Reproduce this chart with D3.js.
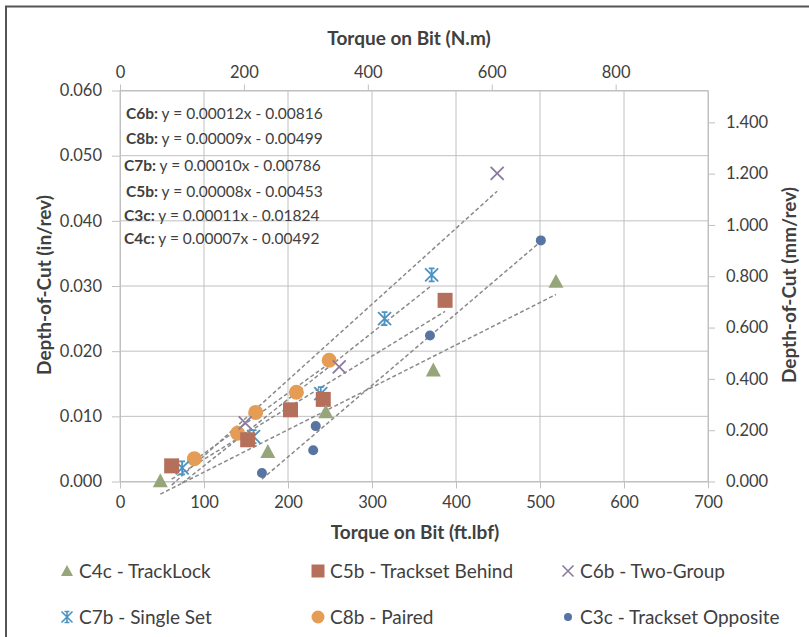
<!DOCTYPE html>
<html>
<head>
<meta charset="utf-8">
<script src="https://cdn.jsdelivr.net/npm/d3@7"></script>
<style>
  body { margin: 0; background: #fff; }
  text { font-family: Lato, 'Open Sans', sans-serif; fill: #404040; }
</style>
</head>
<body>
<svg id="chart" width="809" height="637"></svg>
<script>
// data ---------------------------------------------------
const c4cX = [48, 176, 245, 373, 519]
const c4cY = [0.0001, 0.0046, 0.0107, 0.0171, 0.0307]
const c5bX = [61.5, 152, 203, 242, 387]
const c5bY = [0.0024, 0.0064, 0.011, 0.0126, 0.0278]
const c6bX = [61.5, 149, 261, 449]
const c6bY = [0.0024, 0.009, 0.0176, 0.0473]
const c7bX = [74, 159, 239, 315, 371]
const c7bY = [0.0021, 0.0069, 0.0135, 0.025, 0.0317]
const c8bX = [88.5, 140, 161.5, 210, 249]
const c8bY = [0.0035, 0.0074, 0.0106, 0.0137, 0.0186]
const c3cX = [169, 230, 233, 369, 501]
const c3cY = [0.0013, 0.0048, 0.0085, 0.0224, 0.037]

const seriesNames = ['C4c - TrackLock', 'C5b - Trackset Behind', 'C6b - Two-Group', 'C7b - Single Set', 'C8b - Paired', 'C3c - Trackset Opposite']
const eqLabels = ['C6b:', 'C8b:', 'C7b:', 'C5b:', 'C3c:', 'C4c:']
const eqTexts = ['y = 0.00012x - 0.00816', 'y = 0.00009x - 0.00499', 'y = 0.00010x - 0.00786', 'y = 0.00008x - 0.00453', 'y = 0.00011x - 0.01824', 'y = 0.00007x - 0.00492']

const ftTicks = [0, 100, 200, 300, 400, 500, 600, 700]
const inTicks = [0, 0.01, 0.02, 0.03, 0.04, 0.05, 0.06]
const nmTicks = [0, 200, 400, 600, 800]
const mmTicks = [0, 0.2, 0.4, 0.6, 0.8, 1.0, 1.2, 1.4]

const NM_PER_FTLBF = 1.35582
const MM_PER_IN = 25.4

// chart ------------------------------
function draw() {
  const svg = d3.select('#chart')
  const left = 120
  const right = 708
  const top = 90.5
  const bottom = 481.5
  const gridColor = '#c0c0c0'

  const x = d3.scaleLinear().domain([0, 700]).range([left, right])
  const y = d3.scaleLinear().domain([0, 0.06]).range([bottom, top])
  const xNm = d3.scaleLinear().domain([0, 700 * NM_PER_FTLBF]).range([left, right])
  const yMm = d3.scaleLinear().domain([0, 0.06 * MM_PER_IN]).range([bottom, top])

  // outer frame
  svg.append('path')
    .attr('d', 'M6,640 L6,6.5 L812,6.5')
    .attr('fill', 'none')
    .attr('stroke', '#555')
    .attr('stroke-width', 2)

  // gridlines
  svg.append('g')
    .selectAll('line')
    .data(ftTicks)
    .join('line')
    .attr('x1', (d) => x(d)).attr('x2', (d) => x(d))
    .attr('y1', top).attr('y2', bottom)
    .attr('stroke', gridColor)
  svg.append('g')
    .selectAll('line')
    .data(inTicks)
    .join('line')
    .attr('x1', left).attr('x2', right)
    .attr('y1', (d) => y(d)).attr('y2', (d) => y(d))
    .attr('stroke', gridColor)

  const styleAxis = (g) => {
    g.select('.domain').attr('stroke', gridColor)
    g.selectAll('.tick line').attr('stroke', gridColor)
    g.selectAll('.tick text').style('font-size', '16.5px').attr('fill', '#404040')
  }

  svg.append('g')
    .attr('transform', `translate(0,${bottom})`)
    .call(d3.axisBottom(x).tickValues(ftTicks).tickSize(7).tickPadding(8).tickSizeOuter(0))
    .call(styleAxis)
  svg.append('g')
    .attr('transform', `translate(${left},0)`)
    .call(d3.axisLeft(y).tickValues(inTicks).tickFormat(d3.format('.3f')).tickSize(8).tickPadding(10).tickSizeOuter(0))
    .call(styleAxis)
  svg.append('g')
    .attr('transform', `translate(0,${top})`)
    .call(d3.axisTop(xNm).tickValues(nmTicks).tickSize(6).tickPadding(7).tickSizeOuter(0))
    .call(styleAxis)
  svg.append('g')
    .attr('transform', `translate(${right},0)`)
    .call(d3.axisRight(yMm).tickValues(mmTicks).tickFormat(d3.format('.3f')).tickSize(7).tickPadding(11).tickSizeOuter(0))
    .call(styleAxis)

  // axis titles
  const title = (t, tx, ty, rot) =>
    svg.append('text')
      .attr('transform', `translate(${tx},${ty}) rotate(${rot})`)
      .attr('text-anchor', 'middle')
      .style('font-size', '19px')
      .style('font-weight', 'bold')
      .text(t)
  title('Torque on Bit (N.m)', 409, 45, 0)
  title('Torque on Bit (ft.lbf)', 415, 539, 0)
  title('Depth-of-Cut (in/rev)', 51, 285, -90)
  title('Depth-of-Cut (mm/rev)', 796, 285, -90)

  // series
  const series = [
    { xs: c4cX, ys: c4cY, color: '#97a67a', shape: 'triangle', size: 15 },
    { xs: c5bX, ys: c5bY, color: '#b5705b', shape: 'square', size: 15 },
    { xs: c6bX, ys: c6bY, color: '#8a7aa0', shape: 'x', size: 13 },
    { xs: c7bX, ys: c7bY, color: '#4b93c2', shape: 'star', size: 13 },
    { xs: c8bX, ys: c8bY, color: '#e59d55', shape: 'circle', size: 15 },
    { xs: c3cX, ys: c3cY, color: '#5774a3', shape: 'circle', size: 10 },
  ].map((s, i) => ({ ...s, name: seriesNames[i] }))

  function markerPath(shape, s) {
    const h = s / 2
    if (shape === 'triangle') return `M0,${-h}L${h},${h * 0.85}L${-h},${h * 0.85}Z`
    if (shape === 'square') return `M${-h},${-h}H${h}V${h}H${-h}Z`
    if (shape === 'circle') return d3.symbol(d3.symbolCircle, Math.PI * h * h)()
    if (shape === 'x') return `M${-h},${-h}L${h},${h}M${h},${-h}L${-h},${h}`
    return `M${-h},${-h}L${h},${h}M${h},${-h}L${-h},${h}M0,${-h * 1.05}V${h * 1.05}M${-h * 0.45},${-h}H${h * 0.45}M${-h * 0.45},${h}H${h * 0.45}`
  }
  const isStroke = (shape) => shape === 'x' || shape === 'star'

  // least-squares trendline over the data range
  function fit(xs, ys) {
    const mx = d3.mean(xs)
    const my = d3.mean(ys)
    const sxy = d3.sum(xs, (v, i) => (v - mx) * (ys[i] - my))
    const sxx = d3.sum(xs, (v) => (v - mx) ** 2)
    const m = sxy / sxx
    return { m, b: my - m * mx }
  }

  const trend = svg.append('g')
  series.forEach((s) => {
    const { m, b } = fit(s.xs, s.ys)
    const x0 = d3.min(s.xs)
    const x1 = d3.max(s.xs)
    trend.append('line')
      .attr('x1', x(x0)).attr('y1', y(m * x0 + b))
      .attr('x2', x(x1)).attr('y2', y(m * x1 + b))
      .attr('stroke', '#8a8a8a')
      .attr('stroke-width', 1.5)
      .attr('stroke-dasharray', '4,2.5')
  })

  const drawOrder = [5, 4, 3, 2, 1, 0]
  drawOrder.forEach((k) => {
    const s = series[k]
    svg.append('g')
      .selectAll('path')
      .data(s.xs.map((v, i) => [v, s.ys[i]]))
      .join('path')
      .attr('transform', (d) => `translate(${x(d[0])},${y(d[1])})`)
      .attr('d', markerPath(s.shape, s.size))
      .attr('fill', isStroke(s.shape) ? 'none' : s.color)
      .attr('stroke', isStroke(s.shape) ? s.color : 'none')
      .attr('stroke-width', 1.8)
  })

  // equations
  const eq = svg.append('g')
  const eqY = [119, 144, 171, 197, 221, 244]
  const eqX = [126, 126, 124, 126, 124, 124]
  eqLabels.forEach((lab, i) => {
    const t = eq.append('text')
      .attr('x', eqX[i])
      .attr('y', eqY[i])
      .style('font-size', '15.5px')
    t.append('tspan').style('font-weight', 'bold').text(lab)
    t.append('tspan').text(' ' + eqTexts[i])
  })

  // legend
  const legendX = [67, 318, 568]
  const legendY = [571, 617]
  const legendSize = [12, 13, 11, 11, 13, 8]
  series.forEach((s, i) => {
    const lx = legendX[i % 3]
    const ly = legendY[Math.floor(i / 3)]
    svg.append('path')
      .attr('transform', `translate(${lx},${ly})`)
      .attr('d', markerPath(s.shape, legendSize[i]))
      .attr('fill', isStroke(s.shape) ? 'none' : s.color)
      .attr('stroke', isStroke(s.shape) ? s.color : 'none')
      .attr('stroke-width', 1.6)
    svg.append('text')
      .attr('x', lx + 12)
      .attr('y', ly + 7)
      .style('font-size', '19px')
      .text(s.name)
  })
}

draw()
</script>
</body>
</html>
